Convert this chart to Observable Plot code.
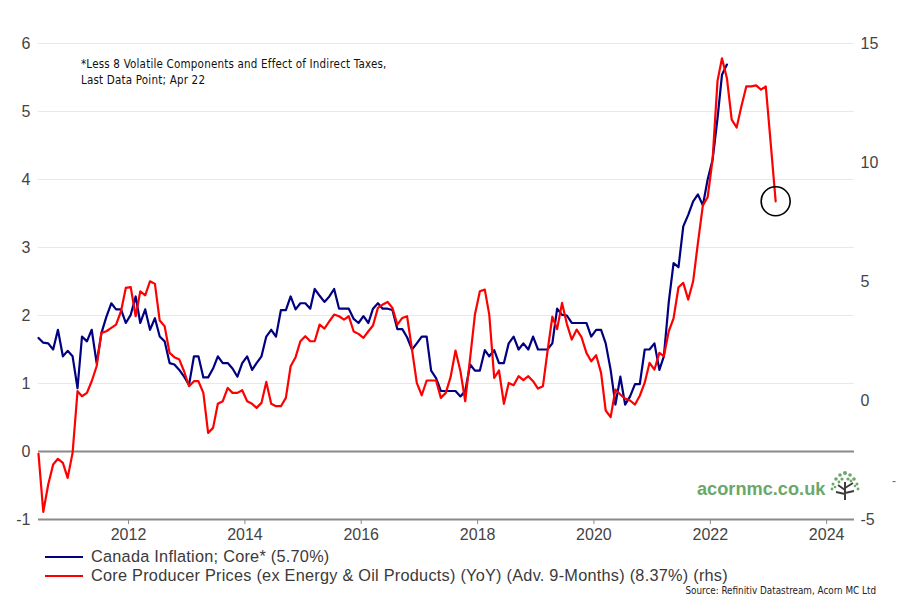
<!DOCTYPE html>
<html><head><meta charset="utf-8">
<script src="https://cdn.jsdelivr.net/npm/d3@7"></script>
<script src="https://cdn.jsdelivr.net/npm/@observablehq/plot@0.6"></script>
<style>
body{margin:0;background:#fff;font-family:"Liberation Sans",Arial,sans-serif;}
#wrap{position:relative;width:905px;height:611px;overflow:hidden;background:#fff;}
#chart{position:absolute;left:0;top:0;}
.note{position:absolute;left:81px;font-family:"DejaVu Sans Condensed","DejaVu Sans",sans-serif;font-size:11.5px;letter-spacing:0.2px;color:#111;white-space:nowrap;line-height:16px;}
.leg{position:absolute;left:45px;font-size:16.3px;letter-spacing:0.25px;color:#3a3a3a;white-space:nowrap;line-height:19px;}
.leg span.sw{display:inline-block;width:38px;height:0;border-top:2.5px solid;vertical-align:middle;margin-right:8px;position:relative;top:-1px;}
.src{position:absolute;right:29px;top:585px;font-family:"DejaVu Sans Condensed","DejaVu Sans",sans-serif;font-size:9.8px;color:#222;white-space:nowrap;}
.logo{position:absolute;left:697px;top:479px;font-size:18.2px;font-weight:bold;color:#6aa86a;white-space:nowrap;}
</style></head><body>
<div id="wrap">
<div id="chart"></div>
<div class="note" style="top:56px">*Less 8 Volatile Components and Effect of Indirect Taxes,<br>Last Data Point; Apr 22</div>
<div class="logo">acornmc.co.uk</div>
<svg style="position:absolute;left:828px;top:468px" width="34" height="34" viewBox="0 0 34 34">
  <path d="M17 32 L17 14 M17 22 L10 17 M17 20 L25 15 M17 26 L8 24 M17 25 L26 23" stroke="#3d3d3d" stroke-width="2" fill="none"/>
  <g fill="#6aa86a">
    <circle cx="17" cy="5" r="2"/><circle cx="12" cy="7" r="1.8"/><circle cx="22" cy="7" r="1.8"/>
    <circle cx="8" cy="11" r="1.8"/><circle cx="26" cy="11" r="1.8"/><circle cx="14" cy="11" r="1.6"/>
    <circle cx="20" cy="11" r="1.6"/><circle cx="5" cy="16" r="1.5"/><circle cx="29" cy="16" r="1.5"/>
    <circle cx="11" cy="14" r="1.4"/><circle cx="23" cy="13" r="1.4"/><circle cx="4" cy="21" r="1.4"/>
    <circle cx="30" cy="21" r="1.4"/><circle cx="27" cy="18" r="1.3"/><circle cx="7" cy="19" r="1.3"/>
  </g>
</svg>
<div style="position:absolute;left:892px;top:474px;font-size:12px;color:#666">-</div>
<div class="leg" style="top:547px"><span class="sw" style="border-color:#000080"></span>Canada Inflation; Core* (5.70%)</div>
<div class="leg" style="top:566px"><span class="sw" style="border-color:#ff0000"></span>Core Producer Prices (ex Energy &amp; Oil Products) (YoY) (Adv. 9-Months) (8.37%) (rhs)</div>
<div class="src">Source: Refinitiv Datastream, Acorn MC Ltd</div>
</div>
<script>
// Monthly series starting June 2010
const startYear = 2010, startMonth = 5; // June (0-based)
const coreCPI = [1.67,1.60,1.59,1.50,1.79,1.40,1.48,1.40,0.93,1.69,1.62,1.79,1.30,1.74,1.98,2.18,2.09,2.09,1.89,2.01,2.28,1.89,2.09,1.79,1.96,1.69,1.62,1.30,1.28,1.20,1.10,0.98,1.40,1.40,1.09,1.09,1.22,1.40,1.30,1.30,1.22,1.10,1.30,1.40,1.20,1.30,1.40,1.69,1.79,1.69,2.08,2.08,2.28,2.09,2.18,2.18,2.10,2.39,2.29,2.20,2.28,2.39,2.10,2.10,2.10,1.95,1.89,1.99,1.89,2.10,2.18,2.10,2.10,2.08,1.80,1.80,1.68,1.50,1.59,1.69,1.69,1.19,1.08,0.89,0.89,0.89,0.89,0.81,0.89,1.28,1.19,1.19,1.49,1.40,1.49,1.30,1.30,1.59,1.69,1.50,1.59,1.50,1.69,1.50,1.50,1.50,1.59,2.10,2.01,2.00,1.89,1.89,1.89,1.89,1.69,1.79,1.79,1.59,1.20,0.69,1.10,0.69,0.81,0.99,0.99,1.50,1.50,1.59,1.20,1.40,2.20,2.77,2.71,3.31,3.48,3.68,3.78,3.62,4.00,4.29,4.90,5.54,5.69];
const corePPI = [-2.24,-4.68,-3.53,-2.69,-2.45,-2.62,-3.25,-2.20,0.39,0.18,0.32,0.81,1.44,2.84,2.91,3.05,3.19,3.75,4.73,4.76,3.54,4.59,4.42,5.01,4.90,3.36,3.12,2.00,1.82,1.72,1.23,0.60,0.81,0.81,0.32,-1.36,-1.15,-0.14,-0.03,0.53,0.32,0.32,0.43,-0.03,-0.14,-0.31,-0.10,0.78,-0.14,-0.24,-0.24,0.11,1.44,1.82,2.49,2.70,2.49,2.49,3.19,3.02,3.33,3.61,3.54,3.40,3.54,2.90,2.80,2.63,2.91,3.15,3.89,4.03,4.14,3.89,3.19,3.47,3.54,2.14,0.74,0.22,0.84,0.84,0.84,0.11,0.32,0.98,2.10,1.23,-0.03,1.79,3.61,4.59,4.66,3.61,0.95,1.26,-0.14,0.74,0.64,1.02,0.86,1.02,0.81,0.50,0.60,2.03,3.52,3.00,4.10,3.22,2.56,2.98,2.66,2.00,1.65,1.90,1.16,-0.42,-0.70,0.46,0.25,0.08,0.00,-0.17,0.20,0.75,1.58,1.30,2.00,1.86,2.91,3.45,4.76,4.94,4.24,5.01,6.62,8.20,8.54,10.12,13.43,14.38,13.54,11.80,11.47,12.36,13.20,13.20,13.24,13.06,13.20,10.80,8.37];
const leftTicks = [-1,0,1,2,3,4,5,6];
const rightTicks = [-5,0,5,10,15];
const yearTicks = [2012,2014,2016,2018,2020,2022,2024];

const leftDomain = [-1, 6], rightDomain = [-5, 15];
const toLeft = v => leftDomain[0] + (v - rightDomain[0]) * (leftDomain[1]-leftDomain[0]) / (rightDomain[1]-rightDomain[0]);
const fromLeft = v => rightDomain[0] + (v - leftDomain[0]) * (rightDomain[1]-rightDomain[0]) / (leftDomain[1]-leftDomain[0]);
const monthDate = i => new Date(Date.UTC(startYear, startMonth + i, 15));

const cpi = coreCPI.map((v,i) => ({date: monthDate(i), value: v}));
const ppi = corePPI.map((v,i) => ({date: monthDate(i), value: v, left: toLeft(v)}));

const chart = Plot.plot({
  width: 905, height: 545,
  marginLeft: 38, marginRight: 51, marginTop: 43, marginBottom: 26,
  style: {fontFamily: "'Liberation Sans', Arial, sans-serif", fontSize: "16px", color: "#444", background: "#fff"},
  x: {type: "utc", domain: [new Date(Date.UTC(2010,5,15)), new Date(Date.UTC(2024,5,24))]},
  y: {domain: leftDomain},
  marks: [
    Plot.ruleY(leftTicks.filter(d => d > 0), {stroke: "#e8e8e8", strokeWidth: 1}),
    Plot.ruleY([0, -1], {stroke: "#8a8a8a", strokeWidth: 2.2}),
    Plot.axisX({ticks: yearTicks.map(y => new Date(Date.UTC(y,0,1))), tickFormat: d => String(d.getUTCFullYear()), tickSize: 5, tickPadding: 4, stroke: "#8a8a8a", fill: "#444", fontSize: 16, label: null}),
    Plot.axisY({ticks: leftTicks, tickFormat: d => String(d), anchor: "left", tickSize: 0, tickPadding: 8, fill: "#444", fontSize: 16, label: null}),
    Plot.axisY({ticks: rightTicks.map(toLeft), tickFormat: d => String(Math.round(fromLeft(d))), anchor: "right", tickSize: 0, tickPadding: 6, fill: "#444", fontSize: 16, label: null}),
    Plot.line(cpi, {x: "date", y: "value", stroke: "#000080", strokeWidth: 2.2}),
    Plot.line(ppi, {x: "date", y: "left", stroke: "#ff0000", strokeWidth: 2.2}),
    Plot.dot(ppi.slice(-1), {x: "date", y: "left", r: 14.5, stroke: "#000", strokeWidth: 1.6, fill: "none"})
  ]
});
document.getElementById("chart").appendChild(chart);
</script>
</body></html>
